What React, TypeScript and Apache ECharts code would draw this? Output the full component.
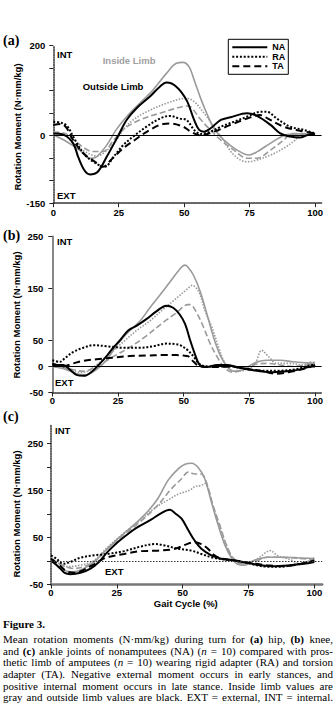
import React, { useEffect, useRef } from 'react';
import * as echarts from 'echarts';

// ---- tick values ----
const xTickValues = [0, 25, 50, 75, 100];
const hipYTicks = [-150, -100, -50, 0, 50, 100, 150, 200];
const hipYLabels = [-150, 0, 200];
const kneeYTicks = [-50, 0, 50, 150, 250];
const kneeYLabels = [-50, 0, 50, 150, 250];
const ankleYTicks = [-50, 0, 50, 100, 150, 200, 250];
const ankleYLabels = [-50, 50, 150, 250];
const legendNames = ['NA', 'RA', 'TA'];

// ---- (a) hip: [gait %, moment] ----
const hipOutNA = [[0,5],[4,2],[7.6,-17],[9.5,-47],[12,-78],[14,-86],[17,-80],[20.4,-47],[24.8,0],[28,35],[31.8,61],[36.9,87],[40.7,109],[43.3,118],[47,109],[50.9,79],[53.8,35],[55.7,13],[57.6,9],[60,16],[64,35],[67.7,41],[74,50],[77.8,44],[83,24],[86.7,5],[90.5,-2],[94.3,-4],[98.7,4],[100,3]];
const hipOutRA = [[0,31],[3.5,28],[5.5,20],[7.6,-2],[11.5,-39],[15.3,-58],[19.7,-69],[23,-47],[26.7,-21],[30.5,-2],[35.6,20],[40.7,38],[44.5,44],[48.3,38],[50.9,35],[53.8,13],[56.3,4],[60,9],[64,20],[69,31],[74,42],[79,53],[81.6,53],[85.4,38],[90.5,20],[95.6,13],[100,5]];
const hipOutTA = [[0,24],[3,26],[5,18],[7.6,-10],[11.5,-39],[15.9,-58],[19,-69],[22,-54],[26.7,-28],[31,-10],[36.9,13],[42,26],[45,27],[49.6,20],[52.5,9],[56,1],[61.4,9],[67.7,24],[74,38],[79,46],[82,38],[88,20],[94.3,11],[100,5]];
const hipInNA = [[0,2],[5,-13],[10,-32],[14,-50],[16.5,-47],[20.4,-21],[24,13],[28.6,46],[33,72],[38,101],[43.3,139],[47,161],[49.6,163],[52,152],[53.8,124],[56.3,83],[58.9,46],[61.4,16],[65.2,-10],[70.2,-32],[74.7,-43],[77.8,-36],[82.9,-17],[88,0],[93,4],[100,1]];
const hipInRA = [[0,5],[4,3],[7.6,-17],[12,-35],[16.5,-45],[20,-35],[24,-10],[27,15],[30.5,35],[35.6,53],[43.3,72],[50.9,83],[53.8,76],[57.6,50],[61.4,20],[65,-10],[69,-43],[74,-58],[77.8,-54],[83,-43],[88,-28],[92.4,-10],[94.3,1],[100,4]];
const hipInTA = [[0,8],[4,6],[8,-10],[12,-28],[15,-35],[19,-35],[23,-10],[27,15],[33,35],[40.7,50],[47,61],[50.9,66],[52.5,64],[56,38],[60,13],[64,-10],[69,-32],[74,-50],[77.8,-50],[83,-32],[88,-10],[91,5],[100,4]];

// ---- (b) knee ----
const kneeOutNA = [[0,3],[4.2,3],[6.7,-6],[9.2,-16],[12,-18],[15,-10],[18,5],[21,22],[23.5,38],[25.7,50],[28.9,69],[32,78],[35.8,91],[39.6,106],[43.4,117],[46,113],[48.5,100],[50.6,81],[52.5,50],[54.4,22],[55.7,6],[57,0],[58.9,-1],[62.7,3],[66.5,3],[70.3,-1],[74,-5],[79,-9],[84,-11],[89,-9],[94,-6],[98.7,0],[100,0]];
const kneeOutRA = [[0,12],[2.9,9],[4.8,16],[8,28],[11.8,36],[15.6,41],[20.6,39],[27,36],[33.3,36],[38.4,39],[43.4,44],[47.2,43],[48.7,41],[51.6,31],[53.8,19],[55.7,6],[57.6,1],[61.4,0],[67.7,0],[74,-5],[80.4,-8],[86.7,-8],[93,-5],[99.4,3],[100,3]];
const kneeOutTA = [[0,6],[4,0],[8,6],[11.8,11],[16.8,14],[23.2,17],[29.5,20],[35.8,21],[42,22],[47.2,22],[50,21],[51.6,20],[53.8,9],[55.7,1],[59,-1],[62.7,-1],[68,0],[74,-5],[79,-8],[85.4,-14],[91.8,-9],[96.8,-3],[100,3]];
const kneeInNA = [[0,0],[5.4,-6],[9.2,-14],[13,-16],[16.8,-6],[20.6,12],[25,44],[29.5,69],[33.3,87],[37,112],[40.9,137],[44.7,162],[48.5,187],[50.4,195],[51.5,192],[53.8,175],[56.3,144],[58.9,100],[61.4,56],[63.9,22],[66.5,0],[69,-9],[72.8,-6],[76.6,6],[81.6,12],[86.7,12],[91.8,9],[96.8,7],[100,6]];
const kneeInRA = [[0,6],[4,0],[8,-9],[12,-11],[16.8,3],[21.9,25],[27,47],[32,69],[37,87],[42,109],[47.2,131],[51.6,150],[53.2,156],[55.7,144],[58.2,106],[60.8,75],[63.3,37],[65.8,6],[69,-9],[74,-6],[77.2,6],[79.7,31],[82.3,19],[85.4,6],[90.5,6],[95.6,3],[98.7,9],[100,8]];
const kneeInTA = [[0,0],[5,-3],[11.8,-9],[16.8,0],[23.2,19],[29.5,37],[35.8,59],[42,84],[47.2,103],[51.6,119],[52.5,119],[55,103],[57.6,75],[60.1,44],[62.7,19],[65.2,0],[68.4,-11],[72.8,-6],[76.6,3],[81.6,6],[86.7,3],[91.8,0],[96.8,3],[100,6]];

// ---- (c) ankle ----
const ankleOutNA = [[0,0],[1.5,-6],[3.5,-16],[5.4,-26],[7.3,-28],[11.2,-25],[15,-16],[18.2,-2],[21.4,19],[25.3,40],[29.1,57],[32.9,72],[38,88],[41.9,102],[45.1,109],[47.5,100],[49.6,90],[52.1,66],[54.6,43],[57.1,26],[60.9,12],[64.6,5],[69.6,1],[74.6,-4],[79.6,-9],[84.6,-11],[90.9,-9],[95.9,-6],[100,-2]];
const ankleOutRA = [[0,12],[2,5],[4.7,-6],[7.3,-2],[11.2,7],[16.3,12],[21.4,15],[27.8,21],[34.2,31],[39.4,36],[43.2,33],[48.3,26],[53.4,22],[57.1,15],[60.9,8],[65.9,3],[70.9,0],[75.9,-6],[82.1,-12],[87.1,-12],[93.4,-7],[100,0]];
const ankleOutTA = [[0,5],[3,-8],[6,-22],[9,-25],[12,-20],[16,-8],[19,2],[21.4,8],[27.8,15],[34.2,21],[40.6,22],[47,26],[52.1,37],[54.6,40],[57.1,36],[59.6,26],[62.1,12],[65,5],[70,1],[75.9,-4],[82,-9],[88,-11],[94,-7],[100,1]];
const ankleInNA = [[0,5],[4.5,-19],[8.6,-23],[12.5,-16],[16.3,-2],[21.4,26],[26.5,53],[31.7,78],[36.8,106],[40.6,133],[44.5,172],[48.3,196],[50.9,206],[53.4,208],[55.9,199],[58.4,175],[60.9,126],[63.4,78],[65.9,36],[68.4,8],[70.9,-7],[73.4,-9],[77.1,1],[82.1,8],[87.1,8],[93.4,7],[100,5]];
const ankleInRA = [[0,8],[5.8,-12],[11,-9],[16.3,1],[21.4,29],[27.8,60],[34.2,88],[39.4,113],[44.5,130],[48.3,142],[52.8,151],[54.6,158],[57.1,161],[58.4,165],[59.6,154],[62.1,106],[64.6,64],[67.1,26],[69.6,1],[73.4,-6],[78.4,5],[83.4,22],[85.9,12],[90.9,3],[94.6,-6],[100,7]];
const ankleInTA = [[0,3],[8.6,-16],[16.3,-2],[21.4,26],[27.8,57],[34.2,85],[40.6,119],[45.8,154],[49.6,175],[52.1,189],[54.6,185],[57.1,185],[59,168],[61.5,119],[64,78],[66.5,36],[69,8],[72.1,-6],[77,-2],[82.1,8],[87,8],[93.4,6],[100,3]];

const SANS = '"Liberation Sans", Arial, Helvetica, sans-serif';
const SERIF = '"Liberation Serif", "Times New Roman", serif';
const GRAY = '#9a9a9a';

type Kind = 'solid' | 'dotted' | 'dashed';

function lineSeries(name: string, data: number[][], idx: number, kind: Kind, gray: boolean, zero?: any) {
  const dash: any = kind === 'solid' ? 'solid' : kind === 'dotted' ? (gray ? [1.5, 1.5] : [2, 1.8]) : gray ? [6, 3] : [7, 4];
  const s: any = {
    type: 'line',
    name,
    xAxisIndex: idx,
    yAxisIndex: idx,
    data,
    smooth: 0.35,
    symbol: 'none',
    silent: true,
    z: gray ? 2 : 3,
    lineStyle: { color: gray ? GRAY : '#000', width: gray ? 1.6 : 2, type: dash },
    itemStyle: { color: gray ? GRAY : '#000' },
  };
  if (zero) {
    s.markLine = {
      symbol: 'none',
      silent: true,
      label: { show: false },
      data: [{ yAxis: 0 }],
      lineStyle: zero,
    };
  }
  return s;
}

const axisLabelStyle = { fontFamily: SANS, fontWeight: 'bold', fontSize: 9.5, color: '#000' };

function xAxis(idx: number, max: number, line: any, margin: number) {
  return {
    type: 'value',
    gridIndex: idx,
    min: 0,
    max,
    axisLine: { show: true, onZero: false, lineStyle: line },
    axisTick: { show: true, length: 4, customValues: xTickValues, lineStyle: { color: '#222', width: 1 } },
    axisLabel: { show: true, customValues: xTickValues, margin, ...axisLabelStyle },
    splitLine: { show: false },
  };
}

function yAxis(idx: number, min: number, max: number, ticks: number[], labels: number[], margin: number, line: any) {
  return {
    type: 'value',
    gridIndex: idx,
    min,
    max,
    axisLine: { show: true, onZero: false, lineStyle: line },
    axisTick: { show: true, length: 4, customValues: ticks, lineStyle: { color: '#222', width: 1 } },
    axisLabel: { show: true, customValues: labels, margin, ...axisLabelStyle },
    splitLine: { show: false },
  };
}

function txt(text: string, x: number, y: number, opts: any = {}) {
  return {
    type: 'text',
    x,
    y,
    rotation: opts.rotation || 0,
    silent: true,
    style: {
      text,
      fill: opts.fill || '#000',
      fontFamily: opts.family || SANS,
      fontWeight: 'bold',
      fontSize: opts.size || 9.5,
      align: opts.align || 'left',
      verticalAlign: 'middle',
    },
  };
}

const App: React.FC = () => {
  const ref = useRef<HTMLDivElement>(null);

  useEffect(() => {
    if (!ref.current) return;
    const chart = echarts.init(ref.current, undefined, { renderer: 'svg' });
    const dotted = { color: '#333', width: 1.5, type: [1.5, 1] };
    const yTitle = 'Rotation Moment (N·mm/kg)';
    const option: any = {
      animation: false,
      backgroundColor: '#fff',
      grid: [
        { left: 53.3, top: 45.7, width: 268.3, height: 157.5, outerBoundsMode: 'none', containLabel: false },
        { left: 52.3, top: 236.5, width: 269.3, height: 156, outerBoundsMode: 'none', containLabel: false },
        { left: 51, top: 424.7, width: 271.2, height: 159.8, outerBoundsMode: 'none', containLabel: false },
      ],
      xAxis: [
        xAxis(0, 102.5, dotted, 4),
        xAxis(1, 102.5, dotted, 3),
        xAxis(2, 103, { color: '#777', width: 2.5, type: 'solid' }, 2.5),
      ],
      yAxis: [
        yAxis(0, -150, 200, hipYTicks, hipYLabels, 8, dotted),
        yAxis(1, -50, 250, kneeYTicks, kneeYLabels, 9, { color: '#888', width: 2, type: 'solid' }),
        yAxis(2, -50, 290, ankleYTicks, ankleYLabels, 7.7, dotted),
      ],
      legend: {
        orient: 'vertical',
        left: 228.3,
        top: 39.3,
        padding: [3.5, 3, 3.5, 3],
        itemWidth: 35,
        itemHeight: 8,
        itemGap: 0.5,
        borderColor: '#000',
        borderWidth: 1,
        backgroundColor: '#fff',
        selectedMode: false,
        data: legendNames,
        itemStyle: { opacity: 0, borderWidth: 0 },
        lineStyle: { opacity: 1 },
        textStyle: { fontFamily: SANS, fontWeight: 'bold', fontSize: 9, color: '#000', lineHeight: 9 },
      },
      series: [
        lineSeries('NA inside', hipInNA, 0, 'solid', true, { color: '#000', width: 1.2, type: 'solid' }),
        lineSeries('RA inside', hipInRA, 0, 'dotted', true),
        lineSeries('TA inside', hipInTA, 0, 'dashed', true),
        lineSeries('NA', hipOutNA, 0, 'solid', false),
        lineSeries('RA', hipOutRA, 0, 'dotted', false),
        lineSeries('TA', hipOutTA, 0, 'dashed', false),

        lineSeries('NA inside', kneeInNA, 1, 'solid', true, { color: '#000', width: 1.2, type: 'solid' }),
        lineSeries('RA inside', kneeInRA, 1, 'dotted', true),
        lineSeries('TA inside', kneeInTA, 1, 'dashed', true),
        lineSeries('NA', kneeOutNA, 1, 'solid', false),
        lineSeries('RA', kneeOutRA, 1, 'dotted', false),
        lineSeries('TA', kneeOutTA, 1, 'dashed', false),

        lineSeries('NA inside', ankleInNA, 2, 'solid', true, { color: '#333', width: 1, type: [1.5, 1.5] }),
        lineSeries('RA inside', ankleInRA, 2, 'dotted', true),
        lineSeries('TA inside', ankleInTA, 2, 'dashed', true),
        lineSeries('NA', ankleOutNA, 2, 'solid', false),
        lineSeries('RA', ankleOutRA, 2, 'dotted', false),
        lineSeries('TA', ankleOutTA, 2, 'dashed', false),
      ],
      graphic: [
        txt('(a)', 3, 40, { family: SERIF, size: 14 }),
        txt('(b)', 3, 235, { family: SERIF, size: 14 }),
        txt('(c)', 3, 416, { family: SERIF, size: 14 }),
        txt('INT', 57, 54.5),
        txt('EXT', 57, 195),
        txt('Inside Limb', 102.7, 60, { fill: '#a0a0a0' }),
        txt('Outside Limb', 82.7, 86.7),
        txt('INT', 57, 241.7),
        txt('EXT', 55, 382.5),
        txt('INT', 55, 430),
        txt('EXT', 105, 571.7),
        txt(yTitle, 17, 127, { rotation: Math.PI / 2, align: 'center' }),
        txt(yTitle, 16.7, 315, { rotation: Math.PI / 2, align: 'center' }),
        txt(yTitle, 16.7, 514, { rotation: Math.PI / 2, align: 'center' }),
        txt('Gait Cycle (%)', 185.8, 603.5, { align: 'center' }),
      ],
    };
    chart.setOption(option);
    return () => chart.dispose();
  }, []);

  const lineStyle: React.CSSProperties = {
    height: 11.67,
    lineHeight: '11.67px',
    textAlign: 'justify',
    textAlignLast: 'justify' as any,
    whiteSpace: 'nowrap',
  };

  return (
    <div style={{ position: 'fixed', left: 0, top: 0, width: 336, height: 723, background: '#fff', overflow: 'hidden' }}>
      <div ref={ref} style={{ position: 'absolute', left: 0, top: 0, width: 336, height: 612 }} />
      <div
        style={{
          position: 'absolute',
          left: 3,
          top: 618.5,
          width: 330,
          fontFamily: SERIF,
          fontSize: 11,
          color: '#000',
        }}
      >
        <div style={{ height: 11.67, lineHeight: '11.67px', fontWeight: 'bold', marginBottom: 4 }}>Figure 3.</div>
        <div style={lineStyle}>
          Mean rotation moments (N·mm/kg) during turn for <b>(a)</b> hip, <b>(b)</b> knee,
        </div>
        <div style={lineStyle}>
          and <b>(c)</b> ankle joints of nonamputees (NA) (<i>n</i> = 10) compared with pros-
        </div>
        <div style={lineStyle}>
          thetic limb of amputees (<i>n</i> = 10) wearing rigid adapter (RA) and torsion
        </div>
        <div style={lineStyle}>adapter (TA). Negative external moment occurs in early stances, and</div>
        <div style={lineStyle}>positive internal moment occurs in late stance. Inside limb values are</div>
        <div style={lineStyle}>gray and outside limb values are black. EXT = external, INT = internal.</div>
      </div>
    </div>
  );
};

export default App;
